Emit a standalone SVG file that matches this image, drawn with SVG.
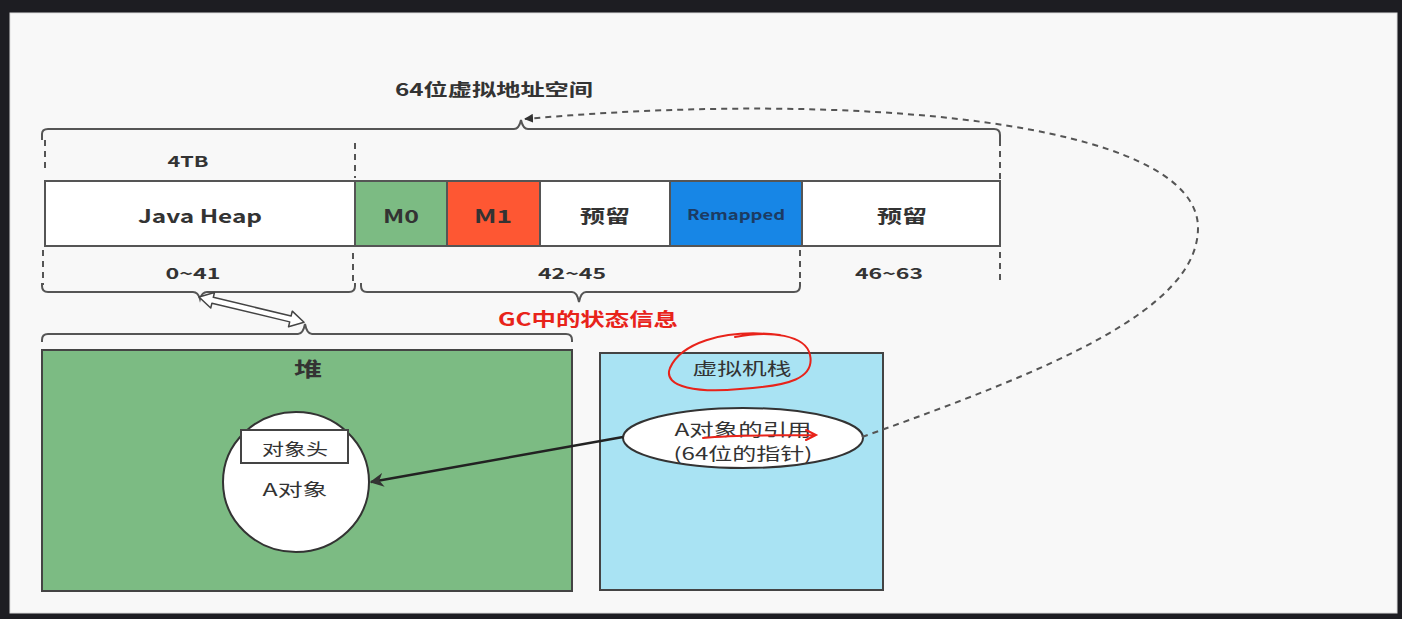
<svg xmlns="http://www.w3.org/2000/svg" width="1402" height="619" viewBox="0 0 1402 619">
<defs>
<style>
.t{font-family:"Noto Sans CJK SC","Noto Sans",sans-serif;fill:#333;text-anchor:middle;dominant-baseline:central}
.b{font-weight:bold}
.seg{stroke:#555;stroke-width:2}
.dash{fill:none;stroke:#555;stroke-width:2;stroke-dasharray:6 5}
.brace{fill:none;stroke:#555;stroke-width:2}
</style>
<marker id="ah" viewBox="0 0 10 10" refX="9" refY="5" markerWidth="9" markerHeight="9" markerUnits="userSpaceOnUse" orient="auto">
<path d="M0,0 L10,5 L0,10 z" fill="#333"/>
</marker>
<marker id="ah2" viewBox="0 0 10 10" refX="9" refY="5" markerWidth="14" markerHeight="14" markerUnits="userSpaceOnUse" orient="auto">
<path d="M0,0 L10,5 L0,10 L3,5 z" fill="#333"/>
</marker>
</defs>
<rect x="0" y="0" width="1402" height="619" fill="#1d1d22"/>
<rect x="10" y="13" width="1387" height="600" fill="#f8f8f8" stroke="#ddd" stroke-width="1"/>

<text class="t b" x="494" y="88" font-size="17" textLength="198" lengthAdjust="spacingAndGlyphs">64位虚拟地址空间</text>

<g id="braces">
<path class="brace" d="M42 140 L42 134 Q42 129 48 129 L514 129 Q519 129 521 120 Q523 129 528 129 L994 129 Q1000 129 1000 135 L1000 140"/>
<path class="brace" d="M42 283 L42 286 Q42 292 48 292 L193 292 Q198 292 200 299 Q202 292 207 292 L349 292 Q355 292 355 286 L355 283"/>
<path class="brace" d="M361 283 L361 286 Q361 292 367 292 L572 292 Q577 292 579 302 Q581 292 586 292 L794 292 Q800 292 800 286 L800 282"/>
<path class="brace" d="M42 342 L42 340 Q42 334 48 334 L298 334 Q303 334 305 324 Q307 334 312 334 L566 334 Q572 334 572 340 L572 342"/>
</g>

<g id="dashes">
<line class="dash" x1="45" y1="140" x2="45" y2="170"/>
<line class="dash" x1="355" y1="143" x2="355" y2="178"/>
<line class="dash" x1="1000" y1="140" x2="1000" y2="180"/>
<line class="dash" x1="43" y1="250" x2="43" y2="285"/>
<line class="dash" x1="353" y1="253" x2="353" y2="285"/>
<line class="dash" x1="800" y1="250" x2="800" y2="282"/>
<line class="dash" x1="1000" y1="252" x2="1000" y2="282"/>
</g>

<text class="t b" x="188" y="160" font-size="15" textLength="41" lengthAdjust="spacingAndGlyphs">4TB</text>

<g id="bar">
<g id="javaheap"><rect class="seg" x="45" y="181" width="310" height="65" fill="#fff"/><text class="t b" x="200" y="215" font-size="18" textLength="124" lengthAdjust="spacingAndGlyphs">Java Heap</text></g>
<g id="m0"><rect class="seg" x="355" y="181" width="92" height="65" fill="#7cbb83"/><text class="t b" x="401" y="215" font-size="18" textLength="36" lengthAdjust="spacingAndGlyphs">M0</text></g>
<g id="m1"><rect class="seg" x="447" y="181" width="93" height="65" fill="#fe5733"/><text class="t b" x="493" y="215" font-size="18" textLength="38" lengthAdjust="spacingAndGlyphs">M1</text></g>
<g id="reserved1"><rect class="seg" x="540" y="181" width="130" height="65" fill="#fff"/><text class="t b" x="605" y="215" font-size="18" textLength="50" lengthAdjust="spacingAndGlyphs">预留</text></g>
<g id="remapped"><rect class="seg" x="670" y="181" width="132" height="65" fill="#1786e6"/><text class="t b" x="736" y="214" font-size="14" textLength="98" lengthAdjust="spacingAndGlyphs" style="fill:#1c3b63">Remapped</text></g>
<g id="reserved2"><rect class="seg" x="802" y="181" width="198" height="65" fill="#fff"/><text class="t b" x="902" y="215" font-size="18" textLength="50" lengthAdjust="spacingAndGlyphs">预留</text></g>
</g>

<text class="t b" x="193" y="272" font-size="15" textLength="55" lengthAdjust="spacingAndGlyphs">0~41</text>
<text class="t b" x="572" y="272" font-size="15" textLength="68" lengthAdjust="spacingAndGlyphs">42~45</text>
<text class="t b" x="889" y="272" font-size="15" textLength="68" lengthAdjust="spacingAndGlyphs">46~63</text>
<text class="t b" x="588" y="318" font-size="18" textLength="180" lengthAdjust="spacingAndGlyphs" style="fill:#e8231a">GC中的状态信息</text>

<g id="heap">
<rect x="42" y="350" width="530" height="241" fill="#7cbb83" stroke="#444" stroke-width="2"/>
<text class="t b" x="308" y="368" font-size="20" textLength="28" lengthAdjust="spacingAndGlyphs">堆</text>
</g>
<g id="objA">
<ellipse cx="296" cy="482" rx="73" ry="70" fill="#fff" stroke="#333" stroke-width="2"/>
<rect x="241" y="430" width="107" height="33" fill="#fff" stroke="#444" stroke-width="2"/>
<text class="t" x="295" y="448" font-size="16" textLength="66" lengthAdjust="spacingAndGlyphs">对象头</text>
<text class="t" x="295" y="488" font-size="17" textLength="65" lengthAdjust="spacingAndGlyphs">A对象</text>
</g>

<g id="stack">
<rect x="600" y="353" width="283" height="237" fill="#a9e3f3" stroke="#444" stroke-width="2"/>
<text class="t" x="742" y="367" font-size="17" textLength="99" lengthAdjust="spacingAndGlyphs">虚拟机栈</text>
</g>
<g id="ref">
<ellipse cx="743" cy="438" rx="120" ry="30" fill="#fff" stroke="#333" stroke-width="2"/>
<text class="t" x="743" y="428" font-size="17" textLength="137" lengthAdjust="spacingAndGlyphs">A对象的引用</text>
<text class="t" x="743" y="452" font-size="17" textLength="139" lengthAdjust="spacingAndGlyphs">(64位的指针)</text>
</g>

<g id="connectors">
<line x1="623" y1="437" x2="371" y2="482" stroke="#222" stroke-width="2.5" marker-end="url(#ah2)"/>
<path class="dash" d="M862 437 C1050 370 1198 310 1198 228 C1198 120 850 90 525 119" marker-end="url(#ah)"/>
<g transform="translate(199 297) rotate(13.5)">
<polygon points="0,0 14,-8 14,-3 94,-3 94,-8 108,0 94,8 94,3 14,3 14,8" fill="#fff" stroke="#444" stroke-width="1.5" stroke-linejoin="round"/>
</g>
</g>

<g id="annotations" fill="none" stroke="#e8231a" stroke-width="2" stroke-linecap="round">
<path d="M780 335 C720 328 680 345 670 368 C662 388 700 393 740 389 C790 386 815 378 810 355 C806 335 770 330 735 337"/>
<path d="M703 438 C740 434 780 436 816 435 M806 430 L816 435 L806 440"/>
</g>
</svg>
